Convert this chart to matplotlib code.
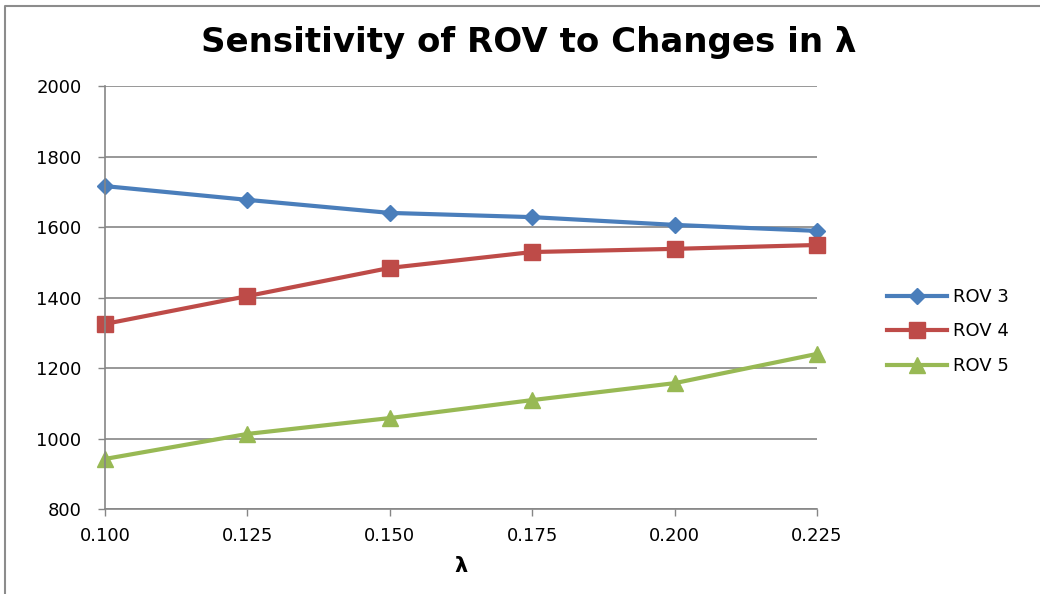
import matplotlib
matplotlib.use("Agg")
import matplotlib.pyplot as plt
from matplotlib.lines import Line2D

lam = [0.100, 0.125, 0.150, 0.175, 0.200, 0.225]
lam_labels = ["0.100", "0.125", "0.150", "0.175", "0.200", "0.225"]
rov3 = [1716, 1677, 1640, 1628, 1606, 1589]
rov4 = [1325, 1404, 1484, 1529, 1538, 1549]
rov5 = [942, 1013, 1058, 1109, 1157, 1240]
y_ticks = [800, 1000, 1200, 1400, 1600, 1800, 2000]

plt.rcParams['font.family'] = ['DejaVu Sans']

fig = plt.figure(figsize=(10.4, 5.94), dpi=100)
bx, by = 4.5 / 1040, 1 - 5.5 / 594
fig.lines.append(Line2D([bx, bx, 1.01], [-0.01, by, by], transform=fig.transFigure,
                        color='#8c8c8c', linewidth=1.5))
ax = fig.add_axes([0.101, 0.1431, 0.6846, 0.7121])

ax.plot(lam, rov3, color='#4a7ebb', lw=3, marker='D', ms=8, label='ROV 3')
ax.plot(lam, rov4, color='#be4b48', lw=3, marker='s', ms=11, label='ROV 4')
ax.plot(lam, rov5, color='#98b954', lw=3, marker='^', ms=11, label='ROV 5')

ax.set_xlim(lam[0], lam[-1])
ax.set_ylim(800, 2000)
ax.set_xticks(lam)
ax.set_xticklabels(lam_labels)
ax.set_yticks(y_ticks)
ax.tick_params(axis='both', labelsize=13, length=5, color='#868686', width=1, direction='out')
ax.tick_params(axis='x', pad=8)
ax.tick_params(axis='y', pad=12)
ax.grid(axis='y', color='#868686', lw=1.2)
ax.set_axisbelow(True)
for s in ['top', 'right']:
    ax.spines[s].set_visible(False)
for s in ['left', 'bottom']:
    ax.spines[s].set_color('#868686')
    ax.spines[s].set_linewidth(1.2)
for l in ax.get_lines():
    l.set_clip_on(False)

ax.set_xlabel('λ', fontsize=15, fontweight='bold', labelpad=8)
fig.text(0.508, 0.928, 'Sensitivity of ROV to Changes in λ', ha='center', va='center',
         fontsize=24.5, fontweight='bold')

fig.legend(loc='center left', bbox_to_anchor=(887/1040, 1-331.5/594), frameon=False, fontsize=13,
           handlelength=3.3, labelspacing=0.92, handletextpad=0.35, borderpad=0, borderaxespad=0)

fig.savefig('out.png', dpi=100)
